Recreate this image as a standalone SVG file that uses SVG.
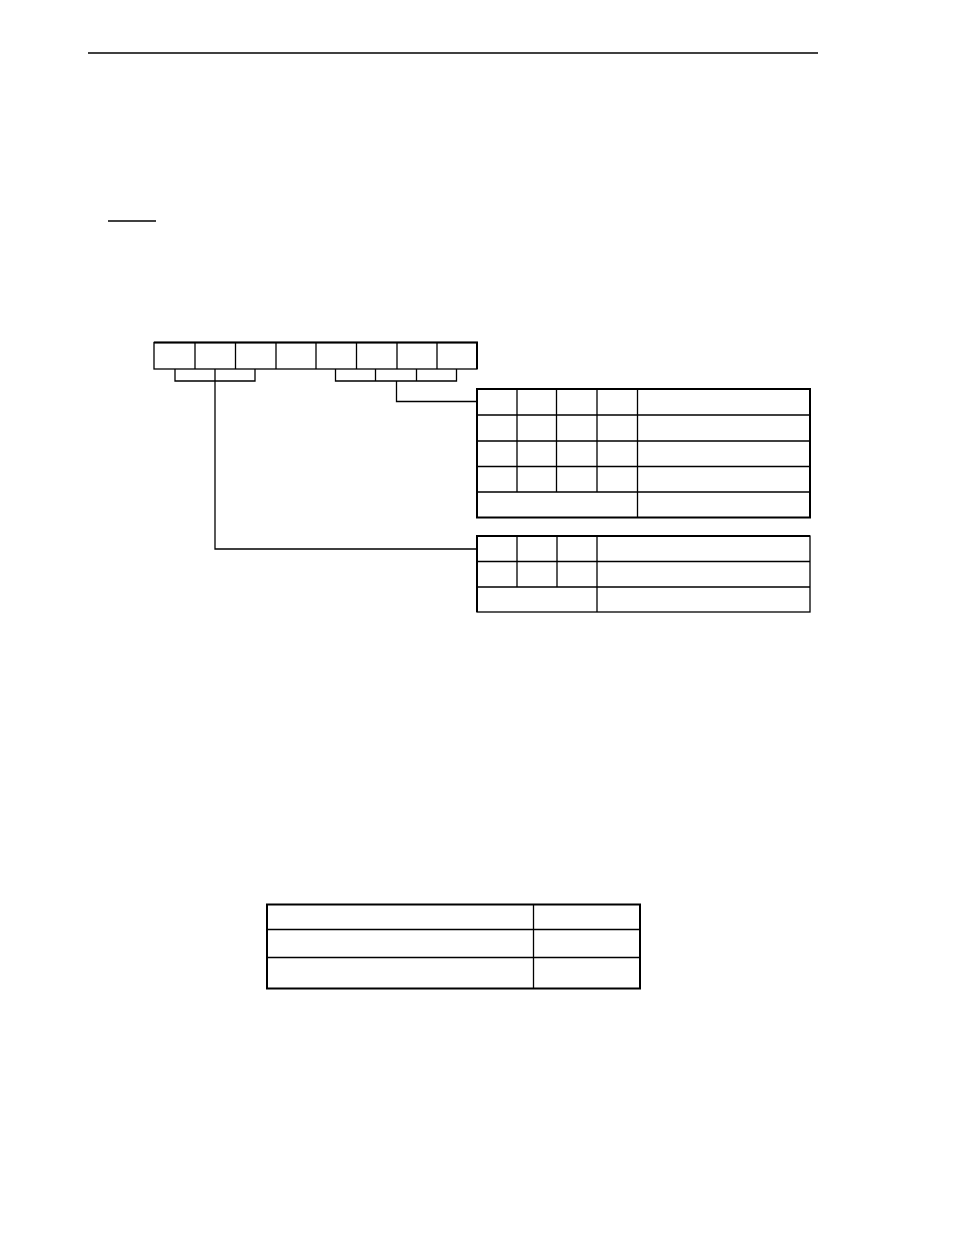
<svg xmlns="http://www.w3.org/2000/svg" width="954" height="1235" viewBox="0 0 954 1235">
<style>
.thin{stroke:#000;stroke-width:1.3;fill:none}
.thick{stroke:#000;stroke-width:2;fill:none}
</style>
<rect width="954" height="1235" fill="#fff"/>
<line class="thin" x1="88" y1="53" x2="818" y2="53"/>
<line class="thin" x1="108" y1="221" x2="156" y2="221"/>
<g id="register">
<rect class="thin" x="154" y="342.5" width="323" height="26.5"/>
<path class="thick" d="M154,342.5 H477 V369"/>
<path class="thin" d="M195,342.5V369 M235.5,342.5V369 M276,342.5V369 M316,342.5V369 M356.5,342.5V369 M397,342.5V369 M437,342.5V369"/>
</g>
<g id="connectors">
<path class="thin" d="M175,369 V381 H255 V369 M215,369 V549 H477"/>
<path class="thin" d="M335.5,369 V381 H456.5 V369 M375.5,369 V381 M416.5,369 V381 M396.5,381 V401.5 H477"/>
</g>
<g id="table1">
<rect class="thick" x="477" y="389" width="333" height="128.5"/>
<path class="thin" d="M477,415H810 M477,441H810 M477,466.5H810 M477,492H810 M517,389V492 M556.5,389V492 M597,389V492 M637.5,389V517.5"/>
</g>
<g id="table2">
<rect class="thin" x="477" y="536" width="333" height="76"/>
<path class="thick" d="M477,612V536H810"/>
<path class="thin" d="M477,561.5H810 M477,587H810 M517,536V587 M557,536V587 M597,536V612"/>
</g>
<g id="table3">
<rect class="thick" x="267" y="904.5" width="373" height="84"/>
<path class="thin" d="M267,929.5H640 M267,957.5H640 M533.5,904.5V988.5"/>
</g>
</svg>
